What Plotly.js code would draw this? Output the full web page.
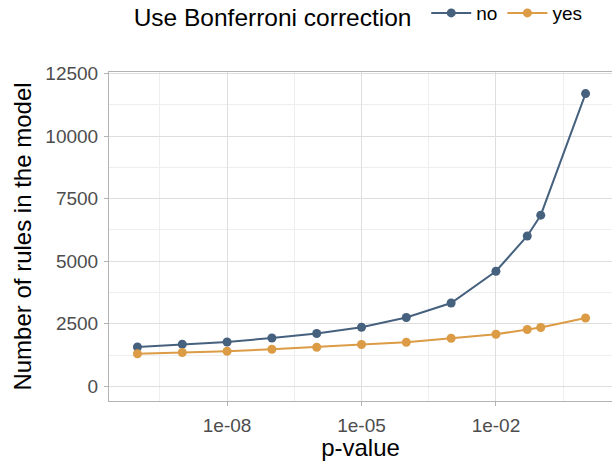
<!DOCTYPE html>
<html>
<head>
<meta charset="utf-8">
<script src="https://cdn.plot.ly/plotly-3.0.1.min.js"></script>
<style>html,body{margin:0;padding:0;background:#fff;}#chart{width:612px;height:461px;}</style>
</head>
<body>
<div id="chart"></div>
<script>
const pValues = [1e-10, 1e-9, 1e-8, 1e-7, 1e-6, 1e-5, 1e-4, 1e-3, 1e-2, 0.05, 0.1, 1];
const rulesNo = [1570, 1680, 1770, 1930, 2110, 2360, 2750, 3330, 4600, 6010, 6840, 11700];
const rulesYes = [1300, 1350, 1400, 1480, 1560, 1670, 1760, 1920, 2080, 2270, 2350, 2730];
const seriesNames = ["no", "yes"];
const seriesColors = ["#46617e", "#dc9b45"];
const xTickVals = [1e-8, 1e-5, 1e-2];
const xTickText = ["1e-08", "1e-05", "1e-02"];
const xMinorVals = [Math.pow(10, -9.5), Math.pow(10, -6.5), Math.pow(10, -3.5), Math.pow(10, -0.5)];
const yTickVals = [0, 2500, 5000, 7500, 10000, 12500];
const yTickText = ["0", "2500", "5000", "7500", "10000", "12500"];

const FONT = "Liberation Sans, Arial, sans-serif";
const mk = (name, y, color) => ({
  type: "scatter", mode: "lines+markers", name: name,
  x: pValues, y: y,
  line: {color: color, width: 2},
  marker: {color: color, size: 9}
});
const data = [mk(seriesNames[0], rulesNo, seriesColors[0]), mk(seriesNames[1], rulesYes, seriesColors[1])];

const layout = {
  width: 612, height: 461,
  margin: {l: 109, r: 0, t: 72, b: 60, autoexpand: false},
  paper_bgcolor: "#fff", plot_bgcolor: "#fff",
  font: {family: FONT, color: "#000"},
  showlegend: true,
  legend: {
    orientation: "h", x: 0.045, xanchor: "left", y: 1.237, yanchor: "top",
    title: {text: "Use Bonferroni correction\u00a0", font: {size: 24.5, color: "#000"}, side: "left"},
    font: {size: 19, color: "#000"},
    itemwidth: 40, bgcolor: "rgba(0,0,0,0)"
  },
  xaxis: {
    type: "log", range: [-10.635, 0.59],
    tickmode: "array", tickvals: xTickVals, ticktext: xTickText,
    tickfont: {size: 19, color: "#4d4d4d"},
    ticks: "outside", ticklen: 4, tickcolor: "#b3b3b3", tickwidth: 1,
    ticklabelstandoff: 3,
    showgrid: true, gridcolor: "#dedede", gridwidth: 1,
    minor: {tickmode: "array", tickvals: xMinorVals, showgrid: true, gridcolor: "#eeeeee", gridwidth: 1, ticks: ""},
    showline: true, linecolor: "#b3b3b3", linewidth: 1, mirror: true,
    zeroline: false,
    title: {text: "p-value", font: {size: 24, color: "#000"}, standoff: 14}
  },
  yaxis: {
    range: [-588, 12564],
    tickmode: "array", tickvals: yTickVals, ticktext: yTickText,
    tickfont: {size: 19, color: "#4d4d4d"},
    ticks: "outside", ticklen: 4, tickcolor: "#b3b3b3", tickwidth: 1,
    ticklabelstandoff: 2,
    showgrid: true, gridcolor: "#dedede", gridwidth: 1,
    minor: {dtick: 1250, tick0: 0, showgrid: true, gridcolor: "#eeeeee", gridwidth: 1, ticks: ""},
    showline: true, linecolor: "#b3b3b3", linewidth: 1,
    zeroline: false,
    title: {text: "Number of rules in the model", font: {size: 24, color: "#000"}, standoff: 6}
  }
};
Plotly.newPlot("chart", data, layout, {staticPlot: true, displayModeBar: false});
</script>
</body>
</html>
